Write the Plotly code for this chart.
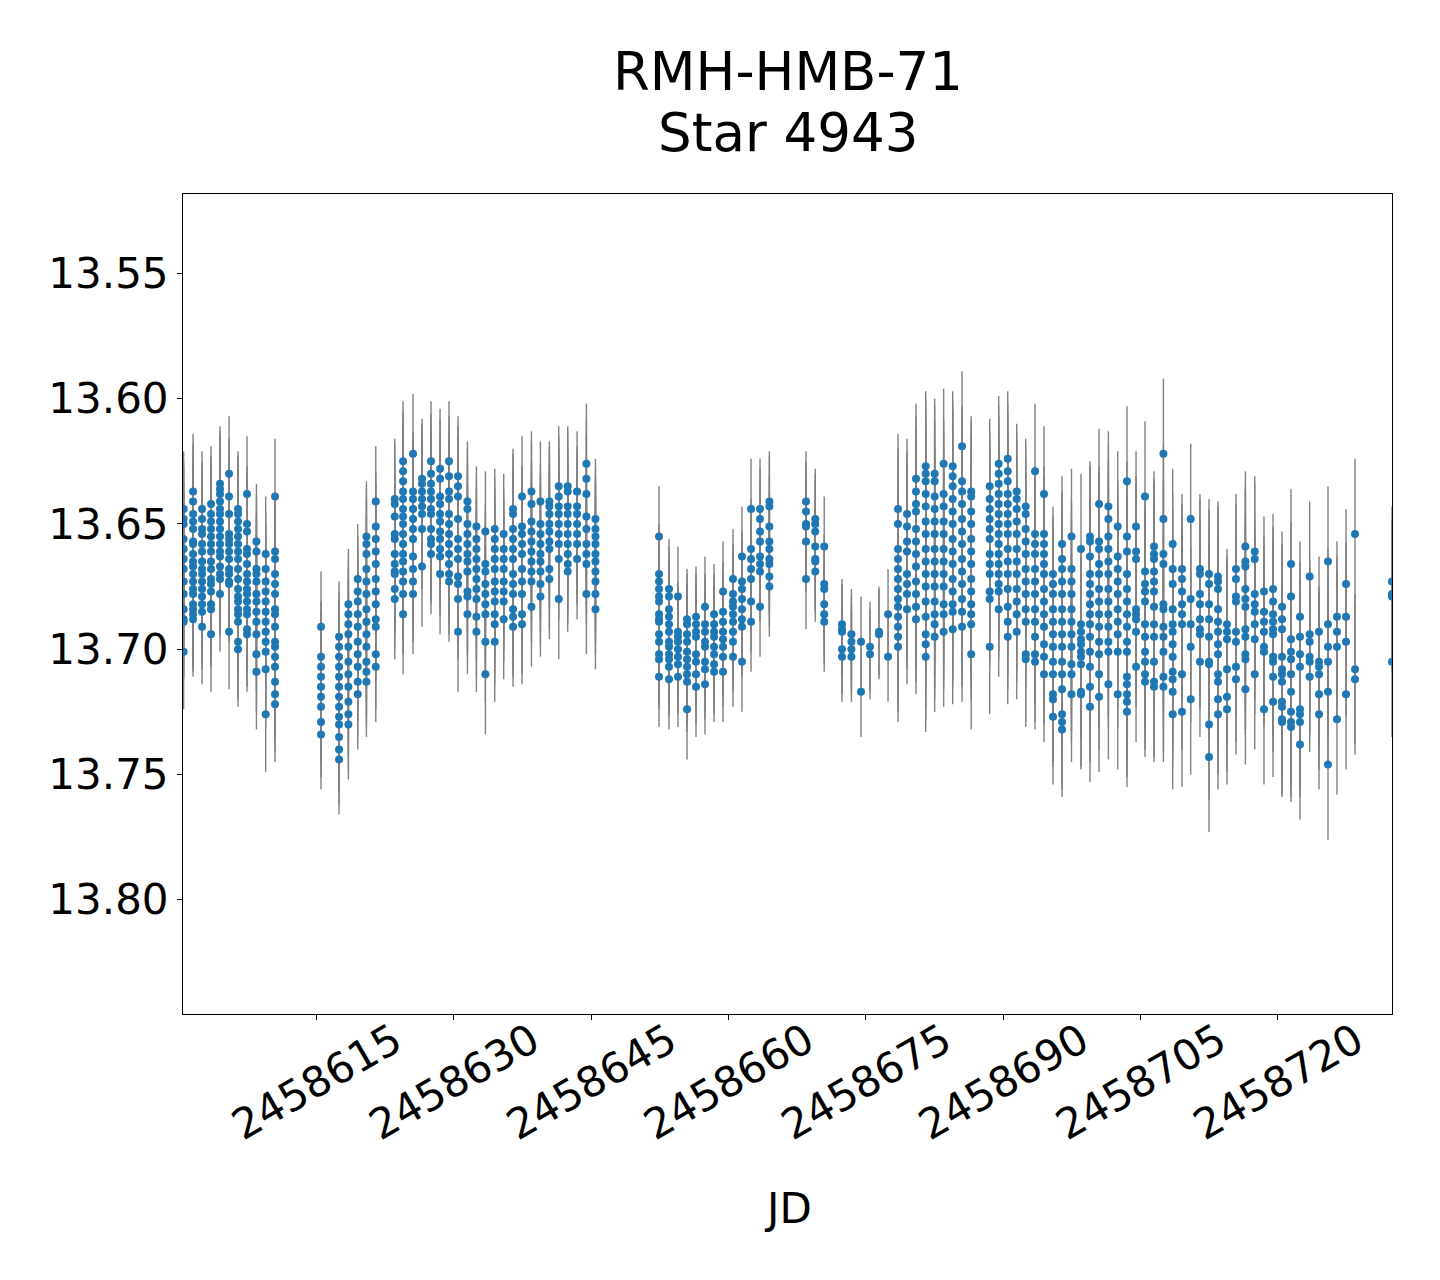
import plotly.graph_objects as go

# ---- data (JD of each night, magnitudes observed that night, typical error) ----
night_jd = [
    2458600.50, 2458601.53, 2458602.51, 2458603.49, 2458604.47, 2458605.46, 2458606.44,
    2458607.42, 2458608.45, 2458609.46, 2458610.48,
    2458615.50, 2458617.47, 2458618.49, 2458619.51, 2458620.46, 2458621.48,
    2458623.55, 2458624.46, 2458625.55, 2458626.53, 2458627.51, 2458628.50, 2458629.48,
    2458630.46, 2458631.49, 2458632.47, 2458633.45, 2458634.47, 2458635.45, 2458636.47,
    2458637.45, 2458638.48, 2458639.46, 2458640.44, 2458641.46, 2458642.44, 2458643.46,
    2458644.48, 2458645.47,
    2458652.41, 2458653.50, 2458654.48, 2458655.47, 2458656.45, 2458657.43, 2458658.42,
    2458659.40, 2458660.49, 2458661.47, 2458662.46, 2458663.44, 2458664.46,
    2458668.46, 2458669.47, 2458670.45,
    2458672.39, 2458673.42, 2458674.47, 2458675.45, 2458676.43, 2458677.42,
    2458678.51, 2458679.49, 2458680.47, 2458681.53, 2458682.51, 2458683.49, 2458684.48,
    2458685.50, 2458686.50,
    2458688.52, 2458689.50, 2458690.49, 2458691.47, 2458692.45, 2458693.47, 2458694.45,
    2458695.43, 2458696.42, 2458697.45,
    2458698.49, 2458699.47, 2458700.46, 2458701.48, 2458702.50, 2458703.51, 2458704.50,
    2458705.48, 2458706.46, 2458707.49, 2458708.50, 2458709.52, 2458710.47, 2458711.48,
    2458712.47, 2458713.45, 2458714.43, 2458715.41, 2458716.44, 2458717.46, 2458718.47,
    2458719.46, 2458720.44, 2458721.42, 2458722.40, 2458723.46, 2458724.48, 2458725.46,
    2458726.44, 2458727.43, 2458728.41, 2458732.45,
]

night_mag = [
    [13.644, 13.648, 13.650, 13.656, 13.660, 13.664, 13.668, 13.673, 13.678, 13.684, 13.688, 13.689, 13.701],
    [13.637, 13.641, 13.646, 13.649, 13.652, 13.657, 13.658, 13.662, 13.665, 13.667, 13.670, 13.673, 13.676, 13.678, 13.682, 13.684, 13.686, 13.688],
    [13.644, 13.648, 13.652, 13.654, 13.658, 13.661, 13.665, 13.668, 13.670, 13.673, 13.676, 13.679, 13.682, 13.685, 13.691],
    [13.642, 13.646, 13.649, 13.652, 13.655, 13.658, 13.661, 13.665, 13.668, 13.672, 13.674, 13.677, 13.682, 13.684, 13.694],
    [13.634, 13.636, 13.638, 13.641, 13.644, 13.646, 13.649, 13.652, 13.655, 13.658, 13.661, 13.663, 13.667, 13.670, 13.672, 13.678],
    [13.630, 13.639, 13.646, 13.654, 13.656, 13.658, 13.661, 13.664, 13.668, 13.670, 13.673, 13.674, 13.693],
    [13.644, 13.646, 13.649, 13.652, 13.655, 13.658, 13.661, 13.664, 13.668, 13.672, 13.676, 13.679, 13.681, 13.684, 13.686, 13.689, 13.697, 13.700],
    [13.638, 13.650, 13.653, 13.660, 13.662, 13.666, 13.670, 13.673, 13.676, 13.678, 13.681, 13.684, 13.686, 13.692, 13.694],
    [13.657, 13.661, 13.668, 13.670, 13.673, 13.678, 13.681, 13.685, 13.689, 13.694, 13.702, 13.709],
    [13.662, 13.668, 13.673, 13.677, 13.681, 13.685, 13.689, 13.693, 13.697, 13.701, 13.708, 13.726],
    [13.639, 13.661, 13.664, 13.670, 13.674, 13.678, 13.684, 13.686, 13.691, 13.697, 13.699, 13.703, 13.707, 13.713, 13.718, 13.722],
    [13.691, 13.703, 13.707, 13.711, 13.715, 13.719, 13.723, 13.729, 13.734],
    [13.695, 13.699, 13.703, 13.707, 13.711, 13.715, 13.719, 13.723, 13.727, 13.730, 13.735, 13.740, 13.744],
    [13.682, 13.686, 13.690, 13.694, 13.699, 13.705, 13.710, 13.715, 13.721, 13.726, 13.730],
    [13.672, 13.677, 13.681, 13.686, 13.691, 13.697, 13.702, 13.707, 13.713, 13.718],
    [13.655, 13.658, 13.662, 13.668, 13.673, 13.678, 13.684, 13.689, 13.694, 13.699, 13.705, 13.709, 13.713],
    [13.641, 13.651, 13.656, 13.661, 13.666, 13.672, 13.677, 13.682, 13.688, 13.691, 13.702, 13.707],
    [13.640, 13.642, 13.647, 13.654, 13.656, 13.662, 13.666, 13.669, 13.670, 13.676, 13.680],
    [13.625, 13.629, 13.633, 13.637, 13.640, 13.644, 13.647, 13.650, 13.654, 13.658, 13.662, 13.665, 13.669, 13.673, 13.678, 13.686],
    [13.622, 13.637, 13.640, 13.644, 13.648, 13.652, 13.656, 13.663, 13.668, 13.673, 13.678],
    [13.632, 13.634, 13.637, 13.640, 13.643, 13.646, 13.652, 13.667],
    [13.625, 13.630, 13.634, 13.637, 13.640, 13.644, 13.646, 13.652, 13.656, 13.658, 13.662],
    [13.628, 13.632, 13.639, 13.642, 13.646, 13.649, 13.653, 13.656, 13.660, 13.663, 13.670],
    [13.625, 13.631, 13.637, 13.640, 13.646, 13.650, 13.654, 13.658, 13.662, 13.666, 13.670, 13.673],
    [13.631, 13.635, 13.639, 13.648, 13.656, 13.660, 13.664, 13.671, 13.674, 13.680, 13.693],
    [13.641, 13.644, 13.650, 13.654, 13.658, 13.662, 13.665, 13.669, 13.677, 13.679, 13.686],
    [13.651, 13.656, 13.660, 13.664, 13.668, 13.672, 13.676, 13.680, 13.687, 13.693],
    [13.653, 13.666, 13.669, 13.674, 13.678, 13.682, 13.686, 13.697, 13.710],
    [13.652, 13.656, 13.660, 13.664, 13.668, 13.673, 13.677, 13.681, 13.686, 13.690, 13.697],
    [13.654, 13.660, 13.664, 13.668, 13.673, 13.677, 13.681, 13.688],
    [13.644, 13.646, 13.652, 13.656, 13.660, 13.664, 13.670, 13.674, 13.678, 13.684, 13.687, 13.691],
    [13.639, 13.651, 13.654, 13.658, 13.662, 13.668, 13.673, 13.678, 13.686, 13.690],
    [13.637, 13.642, 13.649, 13.653, 13.657, 13.661, 13.665, 13.669, 13.673, 13.683],
    [13.641, 13.650, 13.654, 13.658, 13.662, 13.665, 13.669, 13.674, 13.679],
    [13.641, 13.643, 13.646, 13.650, 13.653, 13.657, 13.660, 13.668, 13.672],
    [13.635, 13.639, 13.643, 13.646, 13.650, 13.654, 13.658, 13.664, 13.680],
    [13.635, 13.637, 13.643, 13.646, 13.650, 13.654, 13.658, 13.662, 13.666, 13.669],
    [13.637, 13.643, 13.646, 13.650, 13.654, 13.658, 13.664],
    [13.626, 13.632, 13.638, 13.647, 13.652, 13.658, 13.662, 13.666, 13.678],
    [13.648, 13.652, 13.655, 13.658, 13.662, 13.665, 13.669, 13.673, 13.678, 13.684],
    [13.655, 13.670, 13.673, 13.676, 13.679, 13.681, 13.686, 13.688, 13.689, 13.694, 13.697, 13.702, 13.704, 13.711],
    [13.676, 13.679, 13.684, 13.687, 13.690, 13.693, 13.697, 13.699, 13.702, 13.704, 13.707, 13.712],
    [13.679, 13.693, 13.695, 13.697, 13.700, 13.703, 13.706, 13.711],
    [13.688, 13.690, 13.694, 13.697, 13.701, 13.704, 13.707, 13.710, 13.713, 13.724],
    [13.687, 13.690, 13.693, 13.695, 13.702, 13.705, 13.710, 13.715],
    [13.683, 13.690, 13.693, 13.697, 13.699, 13.705, 13.708, 13.714],
    [13.686, 13.690, 13.693, 13.695, 13.699, 13.702, 13.706, 13.709],
    [13.677, 13.685, 13.689, 13.693, 13.696, 13.699, 13.703, 13.709],
    [13.672, 13.678, 13.681, 13.683, 13.686, 13.689, 13.693, 13.697, 13.703],
    [13.663, 13.673, 13.676, 13.680, 13.684, 13.688, 13.691, 13.705],
    [13.644, 13.660, 13.664, 13.668, 13.672, 13.681, 13.689],
    [13.644, 13.648, 13.653, 13.657, 13.663, 13.666, 13.669, 13.683],
    [13.641, 13.643, 13.651, 13.657, 13.660, 13.664, 13.666, 13.671, 13.675],
    [13.641, 13.645, 13.650, 13.651, 13.657, 13.672],
    [13.648, 13.650, 13.653, 13.659, 13.664, 13.665, 13.669],
    [13.659, 13.674, 13.676, 13.682, 13.686, 13.689],
    [13.690, 13.692, 13.693, 13.700, 13.703],
    [13.694, 13.697, 13.700, 13.703],
    [13.697, 13.717],
    [13.699, 13.702],
    [13.693, 13.694],
    [13.686, 13.703],
    [13.644, 13.650, 13.660, 13.664, 13.668, 13.672, 13.676, 13.680, 13.683, 13.687, 13.691, 13.695, 13.699],
    [13.646, 13.651, 13.657, 13.661, 13.670, 13.674, 13.678, 13.684],
    [13.632, 13.637, 13.642, 13.645, 13.652, 13.657, 13.662, 13.667, 13.673, 13.678, 13.683, 13.688],
    [13.627, 13.630, 13.633, 13.638, 13.643, 13.649, 13.654, 13.660, 13.665, 13.670, 13.675, 13.681, 13.687, 13.694, 13.698, 13.703],
    [13.630, 13.633, 13.639, 13.644, 13.649, 13.654, 13.660, 13.665, 13.670, 13.675, 13.681, 13.686, 13.690, 13.695],
    [13.626, 13.638, 13.643, 13.649, 13.654, 13.660, 13.665, 13.670, 13.675, 13.682, 13.686, 13.693],
    [13.627, 13.631, 13.635, 13.640, 13.645, 13.650, 13.656, 13.661, 13.666, 13.672, 13.677, 13.682, 13.685, 13.692],
    [13.619, 13.633, 13.637, 13.642, 13.648, 13.653, 13.658, 13.664, 13.669, 13.674, 13.680, 13.685, 13.691],
    [13.637, 13.639, 13.645, 13.650, 13.656, 13.661, 13.666, 13.672, 13.677, 13.682, 13.686, 13.690, 13.702],
    [13.635, 13.640, 13.644, 13.648, 13.652, 13.656, 13.662, 13.666, 13.670, 13.677, 13.680, 13.699],
    [13.626, 13.630, 13.634, 13.638, 13.642, 13.646, 13.650, 13.654, 13.658, 13.662, 13.666, 13.670, 13.674, 13.677, 13.684],
    [13.624, 13.629, 13.633, 13.638, 13.642, 13.646, 13.650, 13.654, 13.660, 13.665, 13.670, 13.676, 13.683, 13.689, 13.695],
    [13.637, 13.640, 13.644, 13.649, 13.654, 13.660, 13.665, 13.670, 13.676, 13.681, 13.686, 13.693],
    [13.643, 13.646, 13.652, 13.657, 13.662, 13.668, 13.673, 13.678, 13.684, 13.689, 13.702, 13.704],
    [13.629, 13.654, 13.658, 13.662, 13.668, 13.673, 13.678, 13.684, 13.689, 13.695, 13.702, 13.705],
    [13.638, 13.654, 13.658, 13.662, 13.666, 13.670, 13.676, 13.681, 13.686, 13.691, 13.698, 13.703, 13.710],
    [13.670, 13.674, 13.678, 13.684, 13.689, 13.694, 13.699, 13.705, 13.710, 13.718, 13.720, 13.727],
    [13.658, 13.664, 13.668, 13.673, 13.678, 13.684, 13.689, 13.694, 13.699, 13.705, 13.710, 13.716, 13.726, 13.729, 13.732],
    [13.655, 13.668, 13.673, 13.678, 13.684, 13.689, 13.694, 13.699, 13.706, 13.710, 13.718],
    [13.660, 13.690, 13.693, 13.696, 13.698, 13.701, 13.703, 13.706, 13.717, 13.718],
    [13.655, 13.657, 13.663, 13.670, 13.674, 13.678, 13.682, 13.686, 13.690, 13.695, 13.701, 13.707, 13.715, 13.723],
    [13.642, 13.657, 13.660, 13.666, 13.670, 13.676, 13.681, 13.686, 13.691, 13.697, 13.702, 13.710, 13.719],
    [13.643, 13.648, 13.655, 13.660, 13.665, 13.670, 13.676, 13.681, 13.686, 13.691, 13.697, 13.701, 13.714],
    [13.651, 13.663, 13.668, 13.673, 13.678, 13.684, 13.689, 13.694, 13.701, 13.718],
    [13.633, 13.655, 13.661, 13.670, 13.676, 13.681, 13.686, 13.691, 13.697, 13.701, 13.711, 13.714, 13.718, 13.721, 13.725],
    [13.651, 13.661, 13.664, 13.684, 13.686, 13.688, 13.693, 13.707],
    [13.639, 13.669, 13.674, 13.677, 13.681, 13.690, 13.695, 13.701, 13.705, 13.710, 13.713],
    [13.659, 13.662, 13.664, 13.669, 13.673, 13.677, 13.683, 13.690, 13.695, 13.705, 13.713, 13.715],
    [13.622, 13.648, 13.662, 13.666, 13.682, 13.684, 13.691, 13.695, 13.701, 13.711, 13.715],
    [13.658, 13.668, 13.674, 13.684, 13.690, 13.693, 13.698, 13.703, 13.709, 13.712, 13.717, 13.726],
    [13.668, 13.672, 13.677, 13.682, 13.686, 13.690, 13.710, 13.725],
    [13.648, 13.680, 13.690, 13.699, 13.720],
    [13.668, 13.670, 13.678, 13.682, 13.688, 13.692, 13.694, 13.705],
    [13.670, 13.674, 13.682, 13.688, 13.695, 13.705, 13.706, 13.730, 13.743],
    [13.671, 13.673, 13.676, 13.684, 13.689, 13.693, 13.698, 13.702, 13.710, 13.713, 13.720, 13.726],
    [13.690, 13.693, 13.696, 13.708, 13.719, 13.724],
    [13.668, 13.672, 13.679, 13.681, 13.693, 13.697, 13.707, 13.712],
    [13.659, 13.665, 13.667, 13.676, 13.680, 13.683, 13.692, 13.695, 13.702, 13.704, 13.716],
    [13.661, 13.664, 13.678, 13.682, 13.685, 13.690, 13.696, 13.710],
    [13.677, 13.685, 13.689, 13.693, 13.699, 13.701, 13.724],
    [13.676, 13.681, 13.686, 13.689, 13.692, 13.694, 13.703, 13.705, 13.711, 13.721],
    [13.683, 13.688, 13.692, 13.703, 13.708, 13.710, 13.713, 13.721, 13.723, 13.728, 13.729],
    [13.666, 13.679, 13.696, 13.701, 13.704, 13.710, 13.717, 13.725, 13.729, 13.731],
    [13.687, 13.695, 13.702, 13.707, 13.724, 13.726, 13.729, 13.738],
    [13.671, 13.694, 13.697, 13.703, 13.705, 13.711],
    [13.693, 13.705, 13.707, 13.710, 13.718, 13.726],
    [13.665, 13.690, 13.699, 13.705, 13.717, 13.746],
    [13.687, 13.693, 13.699, 13.728],
    [13.674, 13.687, 13.697, 13.718],
    [13.654, 13.708, 13.712],
    [13.673, 13.678, 13.679, 13.705],
]

night_err = (
    [0.023] * 11 + [0.022] * 6 + [0.024] * 23 + [0.020] * 16
    + [0.018] * 6 + [0.030] * 9 + [0.027] * 10 + [0.030] * 32
)

x_tick_vals = [2458615, 2458630, 2458645, 2458660, 2458675, 2458690, 2458705, 2458720]
x_tick_text = ["2458615", "2458630", "2458645", "2458660", "2458675", "2458690", "2458705", "2458720"]
y_tick_vals = [13.55, 13.60, 13.65, 13.70, 13.75, 13.80]
y_tick_text = ["13.55", "13.60", "13.65", "13.70", "13.75", "13.80"]

# ---- flatten nights into point arrays ----
jd, mag, err = [], [], []
for t, ms, e in zip(night_jd, night_mag, night_err):
    for m in ms:
        jd.append(t)
        mag.append(m)
        err.append(e)

FONT = "DejaVu Sans"

fig = go.Figure()
fig.add_trace(go.Scatter(
    x=jd, y=mag, mode="markers",
    marker=dict(color="#1f77b4", size=8, line=dict(width=0)),
    error_y=dict(type="data", array=err, visible=True, color="#808080", thickness=1.4, width=0),
    showlegend=False,
))

fig.update_layout(
    width=1440, height=1280,
    margin=dict(l=183, r=48, t=194, b=266),
    paper_bgcolor="white", plot_bgcolor="white",
    font=dict(family=FONT, color="black"),
    xaxis=dict(
        range=[2458600.43, 2458732.45],
        tickvals=x_tick_vals, ticktext=x_tick_text,
        tickangle=-30, tickfont=dict(size=42, family=FONT, color="black"),
        ticks="outside", ticklen=5, tickcolor="black", tickwidth=1,
        ticklabelshift=78, ticklabelstandoff=-20,
        showline=True, linecolor="black", linewidth=1, mirror=True,
        showgrid=False, zeroline=False,
    ),
    yaxis=dict(
        range=[13.8456, 13.5183],
        tickvals=y_tick_vals, ticktext=y_tick_text,
        tickfont=dict(size=42, family=FONT, color="black"),
        ticks="outside", ticklen=5, tickcolor="black", tickwidth=1,
        showline=True, linecolor="black", linewidth=1, mirror=True,
        showgrid=False, zeroline=False,
    ),
    annotations=[
        dict(text="RMH-HMB-71", x=0.5, y=(1014 - 71) / 820, xref="paper", yref="paper",
             xanchor="center", yanchor="middle", showarrow=False,
             font=dict(size=53, family=FONT, color="black")),
        dict(text="Star 4943", x=0.5, y=(1014 - 132.7) / 820, xref="paper", yref="paper",
             xanchor="center", yanchor="middle", showarrow=False,
             font=dict(size=53, family=FONT, color="black")),
        dict(text="JD", x=0.5, y=(1014 - 1208) / 820, xref="paper", yref="paper",
             xanchor="center", yanchor="middle", showarrow=False,
             font=dict(size=42, family=FONT, color="black")),
    ],
)

fig.write_html("out.html")
